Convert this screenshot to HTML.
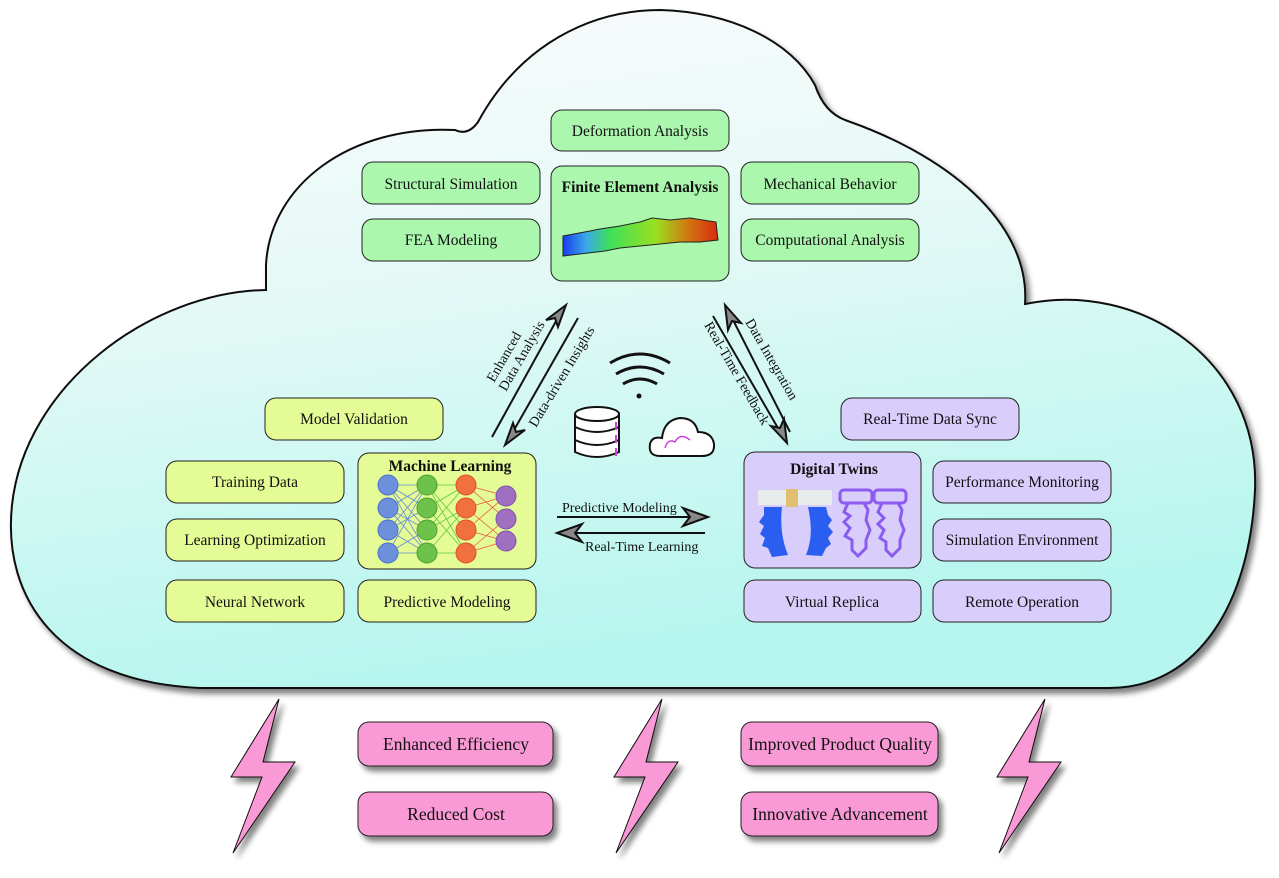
<!DOCTYPE html>
<html><head><meta charset="utf-8"><style>
html,body{margin:0;padding:0;background:#fff}
svg{display:block}
svg text{font-family:"Liberation Serif",serif !important;fill:#111}
</style></head><body>
<svg width="1279" height="878" viewBox="0 0 1279 878" xmlns="http://www.w3.org/2000/svg" font-family="Liberation Serif, serif">
<defs>
<linearGradient id="cg" x1="0" y1="0" x2="0.25" y2="1">
<stop offset="0" stop-color="#fdfbfd"/><stop offset="0.45" stop-color="#e4f9f6"/><stop offset="1" stop-color="#b6f6ee"/>
</linearGradient>
<filter id="sh" x="-10%" y="-10%" width="130%" height="130%"><feGaussianBlur in="SourceAlpha" stdDeviation="3"/><feOffset dx="4" dy="5"/><feComponentTransfer><feFuncA type="linear" slope="0.5"/></feComponentTransfer><feMerge><feMergeNode/><feMergeNode in="SourceGraphic"/></feMerge></filter>
<linearGradient id="fea" x1="0" x2="1"><stop offset="0" stop-color="#1a3cf0"/><stop offset="0.15" stop-color="#3aa8e8"/><stop offset="0.3" stop-color="#3de05a"/><stop offset="0.6" stop-color="#9ae020"/><stop offset="0.8" stop-color="#d07a10"/><stop offset="1" stop-color="#d82a10"/></linearGradient>
</defs>
<path filter="url(#sh)" d="M200 688 C60 682 2 600 12 505 C25 385 150 292 266 290 L266 265 C270 185 350 125 455 130 Q468 136 478 122 C520 45 590 10 660 10 C730 12 790 40 815 85 Q824 112 845 120 C960 160 1030 230 1025 304 C1140 280 1260 360 1255 490 C1250 600 1200 688 1109 688 Z" fill="url(#cg)" stroke="#111" stroke-width="2"/>
<g stroke="#222" stroke-width="1">
<g fill="#abf7ad">
<rect x="551" y="110" width="178" height="41" rx="11"/>
<rect x="362" y="162" width="178" height="42" rx="11"/>
<rect x="362" y="219" width="178" height="42" rx="11"/>
<rect x="551" y="166" width="178" height="115" rx="11"/>
<rect x="741" y="162" width="178" height="42" rx="11"/>
<rect x="741" y="219" width="178" height="42" rx="11"/>
</g>
<g fill="#e4fb96">
<rect x="265" y="398" width="178" height="42" rx="11"/>
<rect x="166" y="461" width="178" height="42" rx="11"/>
<rect x="166" y="519" width="178" height="42" rx="11"/>
<rect x="166" y="580" width="178" height="42" rx="11"/>
<rect x="358" y="453" width="178" height="116" rx="11"/>
<rect x="358" y="580" width="178" height="42" rx="11"/>
</g>
<g fill="#d9cdfb">
<rect x="841" y="398" width="178" height="42" rx="11"/>
<rect x="744" y="452" width="177" height="116" rx="11"/>
<rect x="933" y="461" width="178" height="42" rx="11"/>
<rect x="933" y="519" width="178" height="42" rx="11"/>
<rect x="744" y="580" width="177" height="42" rx="11"/>
<rect x="933" y="580" width="178" height="42" rx="11"/>
</g>
<g fill="#f99ad6" filter="url(#sh)">
<rect x="358" y="722" width="195" height="44" rx="11"/>
<rect x="358" y="792" width="195" height="44" rx="11"/>
<rect x="741" y="722" width="197" height="44" rx="11"/>
<rect x="741" y="792" width="197" height="44" rx="11"/>
</g>
</g>
<g font-size="15.5" text-anchor="middle">
<text x="640" y="136">Deformation Analysis</text>
<text x="451" y="189">Structural Simulation</text>
<text x="451" y="245">FEA Modeling</text>
<text x="640" y="192" font-weight="bold">Finite Element Analysis</text>
<text x="830" y="189">Mechanical Behavior</text>
<text x="830" y="245">Computational Analysis</text>
<text x="354" y="424">Model Validation</text>
<text x="255" y="487">Training Data</text>
<text x="255" y="545">Learning Optimization</text>
<text x="255" y="607">Neural Network</text>
<text x="450" y="471" font-weight="bold">Machine Learning</text>
<text x="447" y="607">Predictive Modeling</text>
<text x="930" y="424">Real-Time Data Sync</text>
<text x="834" y="474" font-weight="bold">Digital Twins</text>
<text x="1022" y="487">Performance Monitoring</text>
<text x="1022" y="545">Simulation Environment</text>
<text x="832" y="607">Virtual Replica</text>
<text x="1022" y="607">Remote Operation</text>
<g font-size="17.5">
<text x="456" y="750">Enhanced Efficiency</text>
<text x="456" y="820">Reduced Cost</text>
<text x="840" y="750">Improved Product Quality</text>
<text x="840" y="820">Innovative Advancement</text>
</g>
</g>
<!-- FEA beam -->
<path d="M563 236 L590 231 L600 229 L620 226 L640 222 L652 218 L670 220 L690 218 L716 222 L718 240 L700 242 L680 242 L660 244 L640 246 L620 248 L605 251 L563 256 Z" fill="url(#fea)" stroke="#222" stroke-width="1"/>
<!-- NN -->
<g stroke-width="0.8" opacity="0.8">
<g stroke="#4a70e0">
<path d="M388 485 L427 485 M388 485 L427 508 M388 485 L427 530 M388 485 L427 553 M388 508 L427 485 M388 508 L427 530 M388 508 L427 553 M388 530 L427 485 M388 530 L427 508 M388 530 L427 553 M388 553 L427 485 M388 553 L427 530 M388 553 L427 553"/>
</g>
<g stroke="#3cba30">
<path d="M427 485 L466 485 M427 485 L466 530 M427 485 L466 553 M427 508 L466 485 M427 508 L466 553 M427 530 L466 485 M427 530 L466 508 M427 553 L466 508 M427 553 L466 553"/>
</g>
<g stroke="#ee3030">
<path d="M466 485 L506 496 M466 485 L506 519 M466 508 L506 496 M466 508 L506 541 M466 530 L506 496 M466 530 L506 541 M466 553 L506 519 M466 553 L506 541"/>
</g>
</g>
<g>
<g fill="#6c90dc" stroke="#4a70d0"><circle cx="388" cy="485" r="10"/><circle cx="388" cy="508" r="10"/><circle cx="388" cy="530" r="10"/><circle cx="388" cy="553" r="10"/></g>
<g fill="#6cc24a" stroke="#4aa030"><circle cx="427" cy="485" r="10"/><circle cx="427" cy="508" r="10"/><circle cx="427" cy="530" r="10"/><circle cx="427" cy="553" r="10"/></g>
<g fill="#f07040" stroke="#e05020"><circle cx="466" cy="485" r="10"/><circle cx="466" cy="508" r="10"/><circle cx="466" cy="530" r="10"/><circle cx="466" cy="553" r="10"/></g>
<g fill="#a070c0" stroke="#8050b0"><circle cx="506" cy="496" r="10"/><circle cx="506" cy="519" r="10"/><circle cx="506" cy="541" r="10"/></g>
</g>
<!-- digital twin image -->
<rect x="758" y="490" width="74" height="15" fill="#e8ecea"/>
<rect x="786" y="489" width="12" height="18" fill="#e0c070"/>
<path d="M764 507 L782 507 C780 525 782 540 788 555 L772 557 L768 548 L762 546 L765 538 L760 534 L764 526 L759 522 L764 515 Z" fill="#2a5ef0"/>
<path d="M808 507 L826 507 L828 515 L832 520 L828 526 L833 532 L828 538 L831 544 L826 548 L822 556 L806 555 C812 540 812 525 808 507 Z" fill="#2a5ef0"/>
<g fill="none" stroke="#8a5cf0" stroke-width="3">
<rect x="840" y="490" width="32" height="13" rx="4"/><rect x="874" y="490" width="32" height="13" rx="4"/>
<path d="M848 503 L844 512 L850 516 L844 522 L850 528 L845 536 L852 540 L852 550 L858 556 L866 548 L866 540 L870 530 L866 520 L868 510 L864 503 M882 503 L878 512 L884 518 L878 524 L884 530 L880 538 L886 542 L886 550 L892 556 L900 548 L900 540 L904 530 L900 520 L902 510 L898 503"/>
</g>
<!-- arrows -->
<g stroke="#111" stroke-width="2" fill="#888">
<line x1="492" y1="437" x2="560" y2="314"/><path d="M566 305 L546 320 L555 318 L558 327 Z"/>
<line x1="578" y1="318" x2="510" y2="437"/><path d="M505 445 L525 430 L516 432 L513 423 Z"/>
<line x1="790" y1="432" x2="730" y2="314"/><path d="M725 305 L728 330 L732 321 L741 323 Z"/>
<line x1="713" y1="316" x2="782" y2="435"/><path d="M787 443 L784 419 L780 428 L771 426 Z"/>
<line x1="557" y1="517" x2="700" y2="517"/><path d="M708 517 L683 508 L690 517 L683 526 Z"/>
<line x1="705" y1="533" x2="565" y2="533"/><path d="M557 533 L582 524 L575 533 L582 542 Z"/>
</g>
<g font-size="14">
<text x="562" y="512">Predictive Modeling</text>
<text x="585" y="551">Real-Time Learning</text>
<text transform="translate(494,383) rotate(-60)">Enhanced</text>
<text transform="translate(506,392) rotate(-60)">Data Analysis</text>
<text transform="translate(536,428) rotate(-59)">Data-driven Insights</text>
<text transform="translate(745,322) rotate(60)">Data Integration</text>
<text transform="translate(704,325) rotate(60)">Real-Time Feedback</text>
</g>
<!-- wifi -->
<g fill="none" stroke="#111" stroke-width="3">
<path d="M610 363 Q640 345 670 363"/><path d="M616 374 Q640 360 664 374"/><path d="M623 384 Q640 374 657 384"/>
</g>
<circle cx="639" cy="396" r="2.5" fill="#111"/>
<!-- db -->
<g fill="#fff" stroke="#111" stroke-width="2">
<path d="M575 414 L575 452 Q597 462 619 452 L619 414"/>
<ellipse cx="597" cy="414" rx="22" ry="7"/>
<path d="M575 427 Q597 437 619 427 M575 440 Q597 450 619 440" fill="none"/>
</g>
<g stroke="#d040e0" stroke-width="2"><line x1="616" y1="422" x2="616" y2="430"/><line x1="616" y1="435" x2="616" y2="443"/><line x1="616" y1="448" x2="616" y2="456"/></g>
<path d="M660 456 Q648 456 650 444 Q652 436 662 438 Q664 420 680 418 Q695 418 698 432 Q712 432 714 444 Q715 456 702 456 Z" fill="#fff" stroke="#111" stroke-width="2"/>
<path d="M665 448 Q668 438 675 442 Q680 432 690 440" fill="none" stroke="#d040e0" stroke-width="1.5"/>
<!-- bolts -->
<g fill="#f99ad6" stroke="#111" stroke-width="1" filter="url(#sh)">
<path d="M279 699 L263 762 L295 762 L233 853 L262 777 L231 777 Z"/>
<path d="M662 699 L646 762 L678 762 L616 853 L645 777 L614 777 Z"/>
<path d="M1045 699 L1029 762 L1061 762 L999 853 L1028 777 L997 777 Z"/>
</g>
</svg>
</body></html>
